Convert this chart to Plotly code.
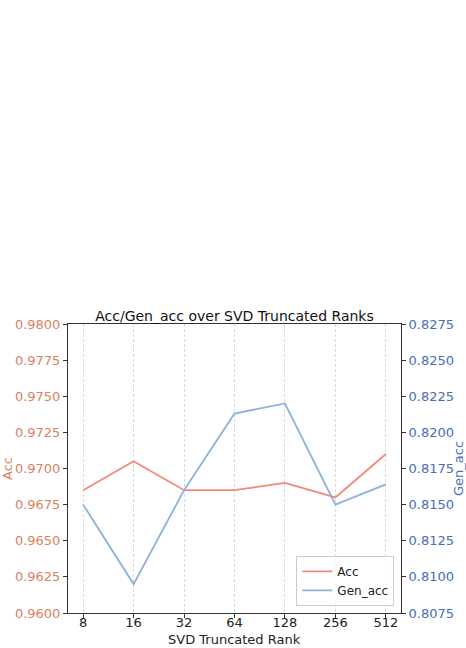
import plotly.graph_objects as go

ranks = ["8", "16", "32", "64", "128", "256", "512"]
acc = [0.9685, 0.9705, 0.9685, 0.9685, 0.9690, 0.9680, 0.9710]
gen_acc = [0.8150, 0.8095, 0.8160, 0.8213, 0.8220, 0.8150, 0.8164]
acc_ticks = [0.96 + 0.0025 * i for i in range(9)]
gen_ticks = [0.8075 + 0.0025 * i for i in range(9)]

ORANGE = "#D9825F"
BLUE = "#4A6DB5"
FONT = "DejaVu Sans"

fig = go.Figure()
fig.add_trace(go.Scatter(x=list(range(len(ranks))), y=acc, mode="lines", name="Acc",
                         line=dict(color="#F4887A", width=1.8)))
fig.add_trace(go.Scatter(x=list(range(len(ranks))), y=gen_acc, mode="lines", name="Gen_acc",
                         yaxis="y2", line=dict(color="#8CB1DE", width=1.8)))

fig.update_layout(
    width=466, height=648,
    margin=dict(l=68, r=65, t=324, b=35),
    paper_bgcolor="white", plot_bgcolor="white",
    font=dict(family=FONT, size=12, color="#222"),
    title=dict(text="Acc/Gen_acc over SVD Truncated Ranks", x=0.5, xref="paper",
               y=1, yref="paper", yanchor="bottom", pad=dict(b=3),
               font=dict(size=14, color="#111")),
    xaxis=dict(range=[-0.3, 6.3], tickvals=list(range(len(ranks))), ticktext=ranks,
               showgrid=True, gridcolor="#d9d9d9", griddash="3px,2px", gridwidth=0.8,
               showline=True, linecolor="#333", linewidth=1, mirror=True,
               ticks="outside", ticklen=4, tickcolor="#333", zeroline=False,
               automargin=False, ticklabelstandoff=-7,
               tickfont=dict(size=13, color="#222")),
    yaxis=dict(range=[0.96, 0.98], tickvals=acc_ticks, tickformat=".4f",
               showgrid=False, zeroline=False, showline=True, linecolor="#333", linewidth=1,
               ticks="outside", ticklen=4, tickcolor="#333", automargin=False,
               tickfont=dict(size=13, color=ORANGE),
               title=dict(text="Acc", standoff=4, font=dict(size=13, color=ORANGE))),
    yaxis2=dict(range=[0.8075, 0.8275], tickvals=gen_ticks, tickformat=".4f",
                overlaying="y", side="right", showgrid=False, zeroline=False,
                showline=True, linecolor="#333", linewidth=1, automargin=False,
                ticks="outside", ticklen=4, tickcolor="#333",
                tickfont=dict(size=13, color=BLUE),
                title=dict(text="Gen_acc", standoff=4, font=dict(size=13, color=BLUE))),
    legend=dict(x=0.98, y=0.025, xanchor="right", yanchor="bottom",
                bgcolor="rgba(255,255,255,0.8)", bordercolor="#cccccc", borderwidth=1,
                tracegroupgap=0, font=dict(size=12, color="#222")),
    showlegend=True,
    annotations=[dict(text="SVD Truncated Rank", xref="paper", yref="paper",
                      x=0.5, y=-0.09, xanchor="center", yanchor="middle",
                      showarrow=False, font=dict(size=13, color="#222"))],
)

fig.write_html("out.html")
